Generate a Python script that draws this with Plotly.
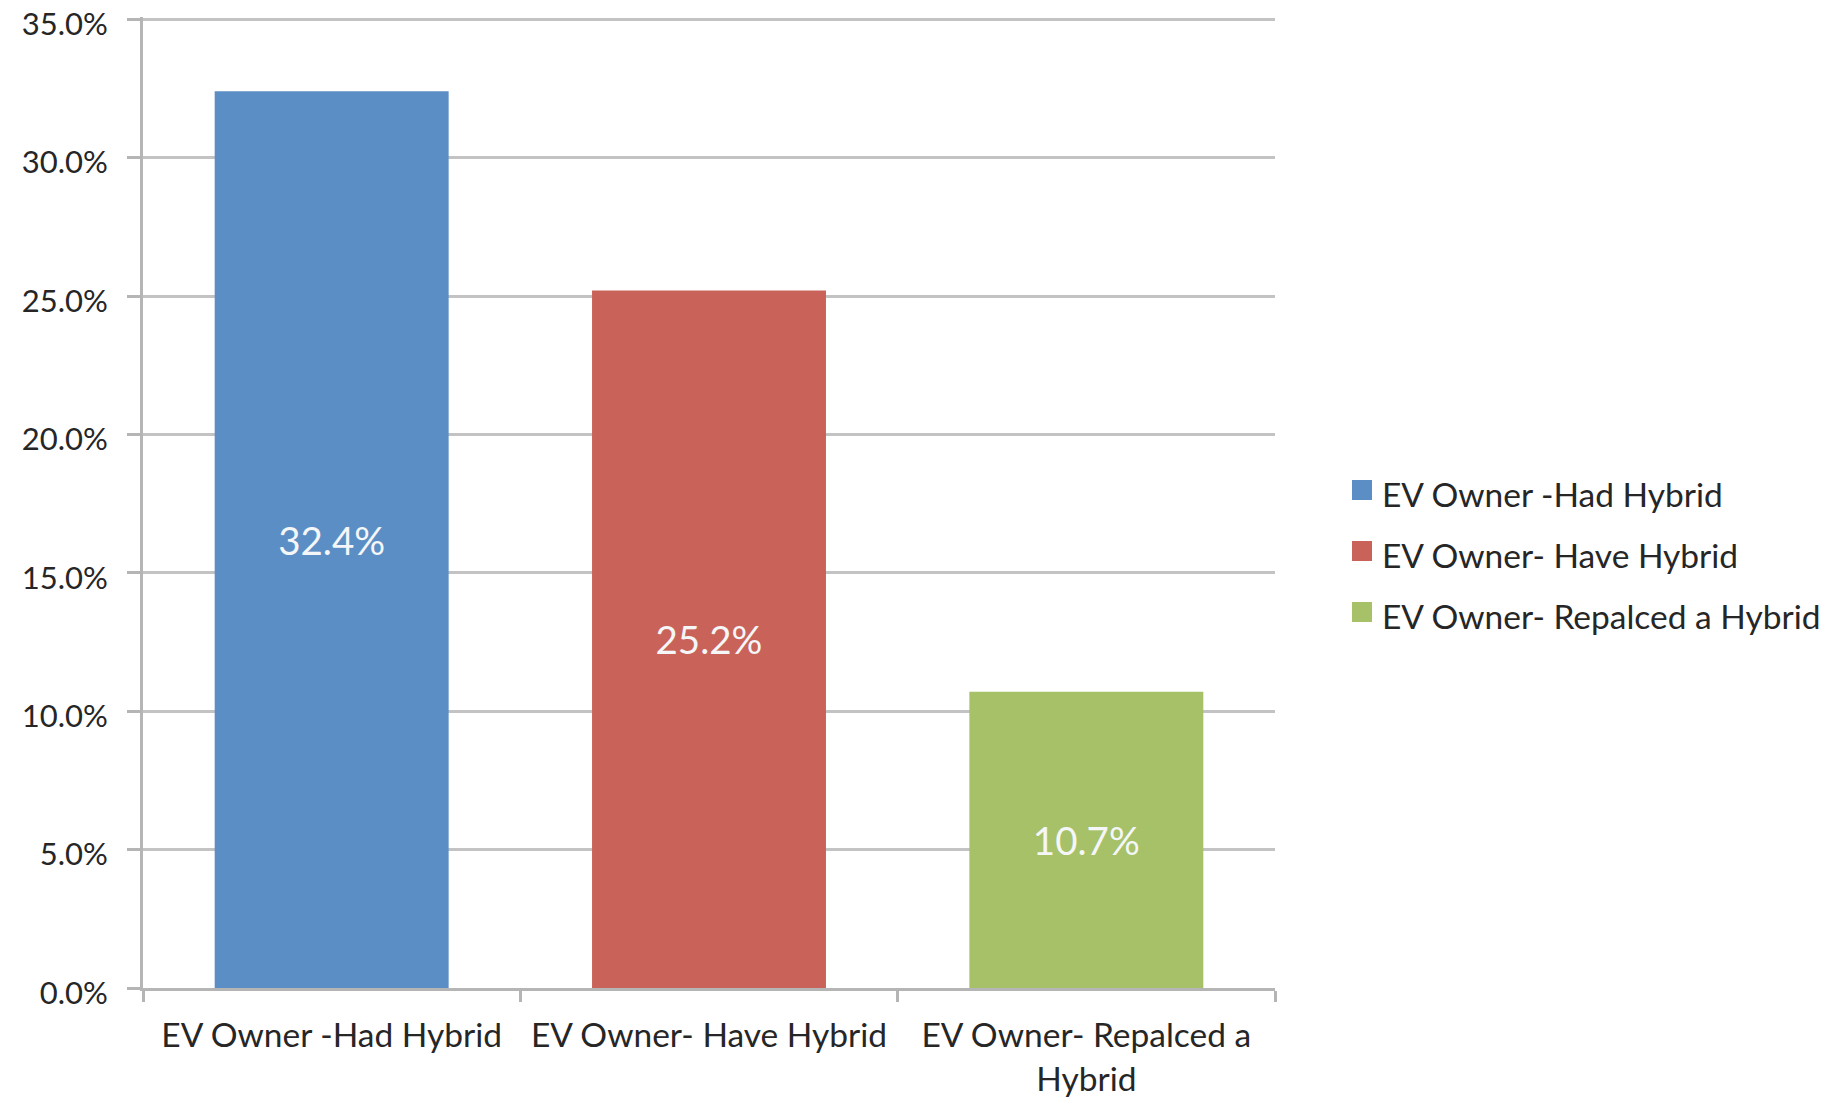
import plotly.graph_objects as go

# Share of EV owners by hybrid-vehicle history
categories = [
    "EV Owner -Had Hybrid",
    "EV Owner- Have Hybrid",
    "EV Owner- Repalced a Hybrid",
]
tick_labels = [
    "EV Owner -Had Hybrid",
    "EV Owner- Have Hybrid",
    "EV Owner- Repalced a<br>Hybrid",
]
shares = [0.324, 0.252, 0.107]
colors = ["#5B8EC4", "#C9635A", "#A6C168"]

W, H = 1847, 1099
L, R, T, B = 143, 572, 17, 111
plot_w = W - L - R
plot_h = H - T - B
Y_MAX = 0.3508  # leaves the 35% gridline just inside the plot area

FONT = "Lato, 'Open Sans', sans-serif"
TEXT = "#262626"
GRID = "#C3C3C3"
AXIS = "#B5B5B5"


def px_x(x):
    return (x - L) / plot_w


def px_y(y):
    return (H - B - y) / plot_h


fig = go.Figure()
for cat, val, col in zip(categories, shares, colors):
    fig.add_trace(go.Bar(
        x=[cat], y=[val], name=cat,
        marker=dict(color=col, line=dict(width=0)),
        texttemplate="%{y:.1%}",
        textposition="inside",
        insidetextanchor="middle",
        textangle=0,
        textfont=dict(family=FONT, size=38.5, color="#F4F6F8"),
        width=0.62,
        showlegend=False,
    ))

# Legend drawn as swatches + labels to the right of the plot
legend_x0 = 1352
legend_rows = [492, 553, 614]
sw = 20
for cat, col, yc in zip(categories, colors, legend_rows):
    fig.add_shape(
        type="rect", xref="paper", yref="paper",
        x0=px_x(legend_x0), x1=px_x(legend_x0 + sw),
        y0=px_y(yc - 2 + sw / 2), y1=px_y(yc - 2 - sw / 2),
        fillcolor=col, line=dict(width=0),
    )
    fig.add_annotation(
        xref="paper", yref="paper",
        x=px_x(legend_x0 + sw + 8), y=px_y(yc + 2),
        xanchor="left", yanchor="middle",
        text=cat, showarrow=False,
        font=dict(family=FONT, size=33.5, color=TEXT),
    )

fig.update_layout(
    width=W, height=H,
    margin=dict(l=L, r=R, t=T, b=B, pad=0, autoexpand=False),
    paper_bgcolor="white",
    plot_bgcolor="white",
    bargap=0.38,
    showlegend=False,
    font=dict(family=FONT, color=TEXT),
)

fig.update_yaxes(
    range=[0, Y_MAX], tick0=0, dtick=0.05, tickformat=".1%",
    automargin=False,
    showgrid=True, gridcolor=GRID, gridwidth=3,
    showline=True, linecolor=AXIS, linewidth=3,
    ticks="outside", ticklen=13, tickwidth=3, tickcolor=AXIS,
    zeroline=False,
    tickfont=dict(family=FONT, size=31, color=TEXT),
    ticklabelstandoff=13,
    ticklabelshift=5,
    ticklabeloverflow="allow",
)
fig.update_xaxes(
    type="category",
    automargin=False,
    tickvals=categories, ticktext=tick_labels,
    showline=True, linecolor=AXIS, linewidth=3,
    ticks="outside", tickson="boundaries", ticklen=11, tickwidth=3,
    tickcolor=AXIS,
    tickfont=dict(family=FONT, size=33.5, color=TEXT),
    ticklabelstandoff=16,
    ticklabeloverflow="allow",
    range=[-0.5, 2.5],
)

fig.write_html("out.html")
